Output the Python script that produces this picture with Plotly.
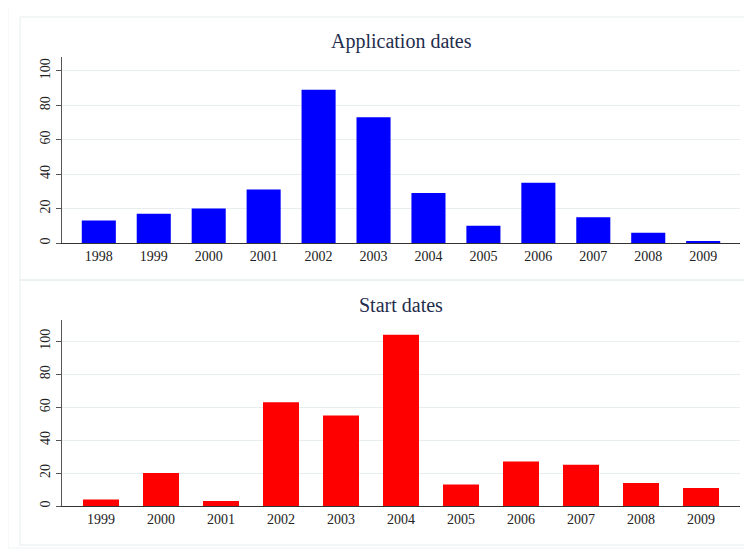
import plotly.graph_objects as go

app_years = list(range(1998, 2010))
app_counts = [13, 17, 20, 31, 89, 73, 29, 10, 35, 15, 6, 1]

start_years = list(range(1999, 2010))
start_counts = [4, 20, 3, 63, 55, 104, 13, 27, 25, 14, 11]

W, H = 752, 553
OFF = 8  # page offset of the plot in the browser
def px(p):
    return (p - OFF) / W
def py(p):
    return 1 - (p - OFF) / H

fig = go.Figure()
fig.add_trace(go.Bar(x=app_years, y=app_counts, marker=dict(color="#0000ff", line=dict(width=0)),
                     width=0.62, xaxis="x", yaxis="y"))
fig.add_trace(go.Bar(x=start_years, y=start_counts, marker=dict(color="#ff0000", line=dict(width=0)),
                     width=0.6, xaxis="x2", yaxis="y2"))

font = dict(family="Liberation Serif", size=14, color="#222")
xcommon = dict(showgrid=False, showline=True, linecolor="#333", linewidth=1, ticks="",
               tickfont=font, zeroline=False, fixedrange=True)
ycommon = dict(showgrid=True, gridcolor="#e8eef0", showline=True, linecolor="#555", linewidth=1,
               ticks="outside", ticklen=5, tickcolor="#555", tickangle=-90, tickfont=font,
               zeroline=False, tickvals=[0, 20, 40, 60, 80, 100])

fig.update_layout(
    width=W, height=H, margin=dict(l=0, r=0, t=0, b=0),
    paper_bgcolor="white", plot_bgcolor="white", showlegend=False,
    xaxis=dict(xcommon, domain=[px(62), px(740)], range=[1997.33, 2009.67],
               tickvals=app_years, anchor="y"),
    yaxis=dict(ycommon, domain=[py(243), py(57)], range=[0, 108], anchor="x"),
    xaxis2=dict(xcommon, domain=[px(62), px(740)], range=[1998.35, 2009.65],
                tickvals=start_years, anchor="y2"),
    yaxis2=dict(ycommon, domain=[py(506), py(320)], range=[0, 113], anchor="x2"),
    annotations=[
        dict(text="Application dates", x=px(401), y=py(42), xref="paper", yref="paper",
             yanchor="middle", showarrow=False,
             font=dict(family="Liberation Serif", size=20, color="#1f2d4d")),
        dict(text="Start dates", x=px(401), y=py(305), xref="paper", yref="paper",
             yanchor="middle", showarrow=False,
             font=dict(family="Liberation Serif", size=20, color="#1f2d4d")),
    ],
    shapes=[
        dict(type="rect", xref="paper", yref="paper", x0=px(8), x1=1.2, y0=py(548), y1=py(5),
             line=dict(color="#eef3f5", width=1)),
        dict(type="rect", xref="paper", yref="paper", x0=px(20), x1=1.2, y0=py(280), y1=py(17),
             line=dict(color="#e6eef0", width=1)),
        dict(type="rect", xref="paper", yref="paper", x0=px(20), x1=1.2, y0=py(545), y1=py(280),
             line=dict(color="#e6eef0", width=1)),
    ],
)

fig.write_html("out.html")
